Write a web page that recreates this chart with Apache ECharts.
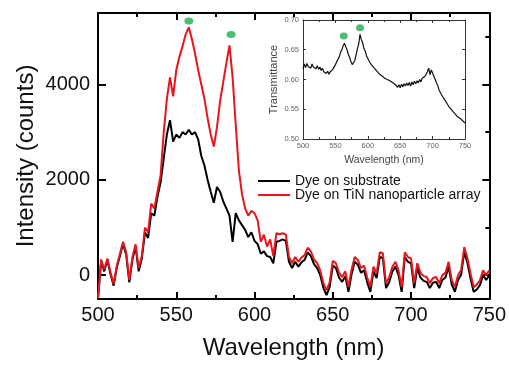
<!DOCTYPE html>
<html>
<head>
<meta charset="utf-8">
<script src="https://cdn.jsdelivr.net/npm/echarts@6/dist/echarts.min.js"></script>
<style>
  html, body { margin: 0; padding: 0; background: #fff; }
  #chart { width: 509px; height: 365px; }
</style>
</head>
<body>
<div id="chart"></div>
<script>
const wavelength = [
  500, 502, 504, 506, 508, 510, 512, 514, 516, 518,
  520, 522, 524, 526, 528, 530, 532, 534, 536, 538,
  540, 542, 544, 546, 548, 550, 552, 554, 556, 558,
  560, 562, 564, 566, 568, 570, 572, 574, 576, 578,
  580, 582, 584, 586, 588, 590, 592, 594, 596, 598,
  600, 602, 604, 606, 608, 610, 612, 614, 616, 618,
  620, 622, 624, 626, 628, 630, 632, 634, 636, 638,
  640, 642, 644, 646, 648, 650, 652, 654, 656, 658,
  660, 662, 664, 666, 668, 670, 672, 674, 676, 678,
  680, 682, 684, 686, 688, 690, 692, 694, 696, 698,
  700, 702, 704, 706, 708, 710, 712, 714, 716, 718,
  720, 722, 724, 726, 728, 730, 732, 734, 736, 738,
  740, 742, 744, 746, 748, 750
];

// intensity (counts)
const dyeOnSubstrate = [
  -500, 300, 80, 320, 20, -220, 160, 400, 660, 430,
  -150, 330, 600, 80, 350, 900, 780, 1300, 1250, 1650,
  1950, 2450, 2950, 3250, 2800, 2950, 2880, 3000, 2950, 3050,
  2950, 3000, 2850, 2500, 2300, 2000, 1750, 1520, 1850, 1750,
  1550, 1400, 1250, 700, 1300, 1150, 1050, 950, 800, 900,
  720, 650, 450, 500, 400, 380, 250, 700, 720, 750,
  720, 280, 150, 280, 180, 270, 320, 480, 400, 230,
  150, 0, -270, -420, -250, 200, 150, -50, -140, -20,
  -350, 20, 280, 220, 50, 100, -150, -350, 80, -60,
  380, 360, -270, -150, 70, 180, 0, -350, 380, 280,
  250, -270, 150, -50, -120, -140, -270, -160, -140, -270,
  -100, -50, 180, -200, -350, -100, 10, 490, 260, -70,
  -350, -300, -210, 0, -100, 0
];
const dyeOnTiN = [
  -480, 330, 120, 350, 60, -180, 200, 450, 700, 480,
  -100, 380, 650, 150, 400, 1000, 900, 1500, 1400, 1750,
  2100, 3000, 3700, 4150, 3750, 4300, 4580, 4800, 5050, 5200,
  4950, 4650, 4300, 4000, 3700, 3300, 2950, 2700, 3100, 3650,
  4050, 4450, 4820, 4150, 3150, 2200, 1700, 1400, 1250, 1350,
  1300, 1150, 700, 850, 600, 750, 400, 880, 860, 880,
  850, 380, 250, 380, 280, 370, 420, 580, 500, 330,
  250, 100, -170, -320, -150, 300, 250, 50, -40, 80,
  -250, 120, 380, 320, 150, 200, -50, -250, 180, 40,
  480, 460, -170, -50, 170, 280, 100, -250, 480, 380,
  350, -170, 250, 50, -20, -40, -170, -60, -40, -170,
  0, 50, 280, -100, -250, 0, 110, 590, 360, 30,
  -250, -200, -110, 100, 0, 100
];

// inset
const transmittance = [
  0.618, 0.626, 0.620, 0.627, 0.622, 0.625, 0.619, 0.626, 0.621, 0.624,
  0.618, 0.623, 0.617, 0.621, 0.615, 0.619, 0.613, 0.616, 0.610, 0.614,
  0.609, 0.613, 0.611, 0.617, 0.619, 0.625, 0.627, 0.634, 0.638, 0.646,
  0.650, 0.657, 0.661, 0.655, 0.650, 0.642, 0.637, 0.630, 0.625, 0.623,
  0.632, 0.642, 0.652, 0.660, 0.676, 0.667, 0.662, 0.652, 0.648, 0.640,
  0.637, 0.631, 0.630, 0.624, 0.625, 0.619, 0.620, 0.614, 0.615, 0.609,
  0.611, 0.606, 0.607, 0.602, 0.605, 0.600, 0.602, 0.598, 0.600, 0.595,
  0.597, 0.592, 0.594, 0.587, 0.591, 0.586, 0.592, 0.588, 0.593, 0.589,
  0.594, 0.590, 0.595, 0.589, 0.596, 0.591, 0.597, 0.593, 0.598, 0.594,
  0.600, 0.596, 0.602, 0.599, 0.605, 0.604, 0.613, 0.619, 0.608, 0.616,
  0.611, 0.609, 0.600, 0.594, 0.590, 0.582, 0.580, 0.574, 0.573, 0.567,
  0.566, 0.560, 0.561, 0.553, 0.555, 0.548, 0.550, 0.543, 0.546, 0.538,
  0.541, 0.535, 0.538, 0.531, 0.534, 0.527
];

// green markers above the peaks
const mainPeakWl = [558, 585];
const mainPeakVal = [5330, 5050];
const insetPeakWl = [563, 588];
const insetPeakVal = [0.673, 0.687];

const yMajorTicks = [0, 2000, 4000];
const yMinorTicks = [1000, 3000, 5000];

const FONT = 'Liberation Sans, Arial, sans-serif';
const RED = '#e8161c';
const GREEN = '#1fae4e';

const pairs = (xs, ys) => xs.map((x, i) => [x, ys[i]]);

const myChart = echarts.init(document.getElementById('chart'));

const mainLine = { onZero: false, lineStyle: { color: '#000', width: 2 } };
const insetLine = { onZero: false, lineStyle: { color: '#333', width: 1 } };

const option = {
  animation: false,
  textStyle: { fontFamily: FONT },
  grid: [
    { left: 98, top: 13, width: 394, height: 287 },
    { left: 303, top: 20, width: 162, height: 119 }
  ],
  legend: {
    data: ['Dye on substrate', 'Dye on TiN nanoparticle array'],
    orient: 'vertical',
    left: 253,
    top: 169,
    icon: 'rect',
    itemWidth: 32,
    itemHeight: 2,
    itemGap: 0,
    textStyle: { fontSize: 14, lineHeight: 14, color: '#111', fontFamily: FONT }
  },
  xAxis: [
    {
      gridIndex: 0, type: 'value', min: 500, max: 750, interval: 50,
      axisLine: mainLine,
      axisTick: { inside: true, length: 7, lineStyle: { width: 2, color: '#000' } },
      minorTick: { show: true, splitNumber: 2, length: 4, lineStyle: { width: 2, color: '#000' } },
      axisLabel: { fontSize: 20, color: '#111', margin: 6, fontFamily: FONT },
      splitLine: { show: false },
      name: 'Wavelength (nm)', nameLocation: 'middle', nameGap: 37,
      nameTextStyle: { fontSize: 24, color: '#111', fontFamily: FONT }
    },
    {
      gridIndex: 0, type: 'value', position: 'top', min: 500, max: 750, interval: 50,
      axisLine: mainLine,
      axisTick: { inside: true, length: 7, lineStyle: { width: 2, color: '#000' } },
      minorTick: { show: true, splitNumber: 2, length: 4, lineStyle: { width: 2, color: '#000' } },
      axisLabel: { show: false },
      splitLine: { show: false }
    },
    {
      gridIndex: 1, type: 'value', min: 500, max: 750, interval: 50,
      axisLine: insetLine,
      axisTick: { inside: true, length: 3, lineStyle: { color: '#333' } },
      minorTick: { show: true, splitNumber: 2, length: 2, lineStyle: { color: '#333' } },
      axisLabel: { fontSize: 7.5, color: '#666', margin: 3, fontFamily: FONT },
      splitLine: { show: false },
      name: 'Wavelength (nm)', nameLocation: 'middle', nameGap: 16,
      nameTextStyle: { fontSize: 10.5, color: '#444', fontFamily: FONT }
    },
    {
      gridIndex: 1, type: 'value', position: 'top', min: 500, max: 750, interval: 50,
      axisLine: insetLine,
      axisTick: { inside: true, length: 3, lineStyle: { color: '#333' } },
      minorTick: { show: true, splitNumber: 2, length: 2, lineStyle: { color: '#333' } },
      axisLabel: { show: false },
      splitLine: { show: false }
    }
  ],
  yAxis: [
    {
      gridIndex: 0, type: 'value', min: -500, max: 5500,
      axisLine: { show: true, onZero: false, lineStyle: { color: '#000', width: 2 } },
      axisTick: { show: true, inside: true, length: 8, customValues: yMajorTicks, lineStyle: { width: 2, color: '#000' } },
      axisLabel: { customValues: yMajorTicks, fontSize: 20, color: '#111', margin: 8, fontFamily: FONT, formatter: (v) => String(v) },
      splitLine: { show: false },
      name: 'Intensity (counts)', nameLocation: 'middle', nameGap: 60, nameMoveOverlap: false,
      nameTextStyle: { fontSize: 24, color: '#111', fontFamily: FONT }
    },
    {
      gridIndex: 0, type: 'value', min: -500, max: 5500,
      axisLine: { show: false },
      axisTick: { show: true, inside: true, length: 4, customValues: yMinorTicks, lineStyle: { width: 2, color: '#000' } },
      axisLabel: { show: false },
      splitLine: { show: false }
    },
    {
      gridIndex: 0, type: 'value', position: 'right', min: -500, max: 5500,
      axisLine: { show: true, onZero: false, lineStyle: { color: '#000', width: 2 } },
      axisTick: { show: true, inside: true, length: 7, customValues: yMajorTicks, lineStyle: { width: 2, color: '#000' } },
      axisLabel: { show: false },
      splitLine: { show: false }
    },
    {
      gridIndex: 0, type: 'value', position: 'right', min: -500, max: 5500,
      axisLine: { show: false },
      axisTick: { show: true, inside: true, length: 4, customValues: yMinorTicks, lineStyle: { width: 2, color: '#000' } },
      axisLabel: { show: false },
      splitLine: { show: false }
    },
    {
      gridIndex: 1, type: 'value', min: 0.5, max: 0.7, interval: 0.05,
      axisLine: { show: true, onZero: false, lineStyle: { color: '#333', width: 1 } },
      axisTick: { show: true, inside: true, length: 3, lineStyle: { color: '#333' } },
      axisLabel: { fontSize: 7.5, color: '#666', margin: 4, fontFamily: FONT, formatter: (v) => v.toFixed(2) },
      splitLine: { show: false },
      name: 'Transmittance', nameLocation: 'middle', nameGap: 24,
      nameTextStyle: { fontSize: 11, color: '#444', fontFamily: FONT }
    },
    {
      gridIndex: 1, type: 'value', position: 'right', min: 0.5, max: 0.7, interval: 0.05,
      axisLine: { show: true, onZero: false, lineStyle: { color: '#333', width: 1 } },
      axisTick: { show: true, inside: true, length: 3, lineStyle: { color: '#333' } },
      axisLabel: { show: false },
      splitLine: { show: false }
    }
  ],
  series: [
    {
      name: 'Dye on substrate', type: 'line', xAxisIndex: 0, yAxisIndex: 0,
      data: pairs(wavelength, dyeOnSubstrate), symbol: 'none',
      lineStyle: { color: '#000', width: 2 }, itemStyle: { color: '#000' }
    },
    {
      name: 'Dye on TiN nanoparticle array', type: 'line', xAxisIndex: 0, yAxisIndex: 0,
      data: pairs(wavelength, dyeOnTiN), symbol: 'none',
      lineStyle: { color: RED, width: 2 }, itemStyle: { color: RED }
    },
    {
      type: 'scatter', xAxisIndex: 0, yAxisIndex: 0,
      data: pairs(mainPeakWl, mainPeakVal), symbol: 'circle', symbolSize: [9, 7],
      itemStyle: { color: GREEN }
    },
    {
      name: 'Transmittance', type: 'line', xAxisIndex: 2, yAxisIndex: 4,
      data: pairs(wavelength, transmittance), symbol: 'none',
      lineStyle: { color: '#111', width: 1.2 }
    },
    {
      type: 'scatter', xAxisIndex: 2, yAxisIndex: 4,
      data: pairs(insetPeakWl, insetPeakVal), symbol: 'circle', symbolSize: [8, 7],
      itemStyle: { color: GREEN }
    }
  ]
};

myChart.setOption(option);
</script>
</body>
</html>
